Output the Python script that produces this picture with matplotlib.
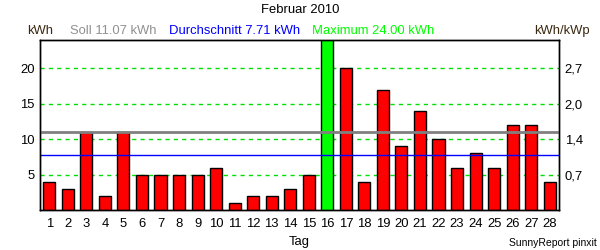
import matplotlib
matplotlib.use("Agg")
import matplotlib.pyplot as plt
import numpy as np

plt.rcParams['font.family'] = ['Liberation Sans', 'DejaVu Sans']

days = list(range(1, 29))
values = [4, 3, 11, 2, 11, 5, 5, 5, 5, 6, 1, 2, 2, 3, 5, 24, 20, 4, 17, 9, 14, 10, 6, 8, 6, 12, 12, 4]
soll = 11.07
average = 7.71
maximum = 24.00
left_ticks = [5, 10, 15, 20]
right_labels = ["0,7", "1,4", "2,0", "2,7"]
title = "Februar 2010"

fig = plt.figure(figsize=(6, 2.5), dpi=100)
ax = fig.add_axes([40/600, 1-210/250, 519/600, 170/250])

colors = ['#00FF00' if v == max(values) else '#FF0000' for v in values]
ax.bar(days, values, width=0.65, color=colors, edgecolor='black', linewidth=1.0, zorder=3)

for t in left_ticks:
    ax.axhline(t, color='#00E000', linestyle=(0, (3, 3)), linewidth=1.0, zorder=1)
ax.axhline(soll, color='#808080', linewidth=2.0, zorder=4)
ax.axhline(average, color='#0000FF', linewidth=1.0, zorder=4)

ax.set_xlim(0.5, 28.5)
ax.set_ylim(0, 24)
ax.set_xticks(days)
ax.set_xticklabels([str(d) for d in days], fontsize=9.4)
ax.set_yticks(left_ticks)
ax.set_yticklabels([str(t) for t in left_ticks], fontsize=9.4)
ax.tick_params(length=0, pad=4)
ax.tick_params(axis='x', pad=6)

ax2 = ax.twinx()
ax2.set_ylim(0, 24)
ax2.set_yticks(left_ticks)
ax2.set_yticklabels(right_labels, fontsize=9.4)
ax2.tick_params(length=0, pad=4)

for a in (ax, ax2):
    for s in a.spines.values():
        s.set_linewidth(1.0)
        s.set_color('black')

ax.set_xlabel("Tag", fontsize=9.4, labelpad=4)

fig.text(0.5, 1-10/250, title, ha='center', va='center', fontsize=9.4)
hy = 1-31/250
fig.text(27/600, hy, "kWh", ha='left', va='center', fontsize=9.4, color='#3a2810')
fig.text(70/600, hy, "Soll %.2f kWh" % soll, ha='left', va='center', fontsize=9.4, color='#909090')
fig.text(169/600, hy, "Durchschnitt %.2f kWh" % average, ha='left', va='center', fontsize=9.4, color='#0000FF')
fig.text(312/600, hy, "Maximum %.2f kWh" % maximum, ha='left', va='center', fontsize=9.4, color='#00FF00')
fig.text(590/600, hy, "kWh/kWp", ha='right', va='center', fontsize=9.4, color='#3a2810')
fig.text(597/600, 1-243/250, "SunnyReport pinxit", ha='right', va='center', fontsize=7.5, color='black')

fig.savefig("out.png", dpi=100)
